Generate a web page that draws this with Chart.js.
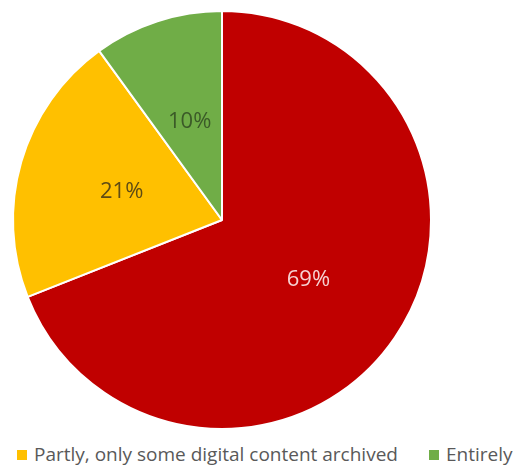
<!DOCTYPE html>
<html lang="en">
<head>
    <meta charset="UTF-8">
    <title>Digital content archiving</title>
    <script src="https://cdn.jsdelivr.net/npm/chart.js@4/dist/chart.umd.min.js"></script>
    <style>
        html, body { margin: 0; padding: 0; background: #fff; }
        #page { position: relative; width: 524px; height: 466px; overflow: hidden; }
        #wrap { position: absolute; left: 0; top: 0; width: 524px; height: 432px; }
        #legend {
            position: absolute; left: 17px; top: 442px;
            display: flex; white-space: nowrap;
            font-family: "Open Sans", sans-serif; font-size: 19px; line-height: 24px;
            color: #595959;
        }
        .item { display: flex; align-items: center; }
        .item + .item { margin-left: 31px; }
        .swatch { display: inline-block; width: 10px; height: 10px; margin-right: 7px; margin-top: 2px; }
    </style>
</head>
<body>
    <div id="page">
        <div id="wrap"><canvas id="pieChart"></canvas></div>
        <div id="legend"></div>
    </div>

    <script>
        // data
        const categories = ["Not archived", "Partly, only some digital content archived", "Entirely"];
        const shares = [69, 21, 10];
        const sliceColors = ["#C00000", "#FFC000", "#70AD47"];
        const labelColors = ["#F6D2D2", "#5E4B14", "#3B5A28"];

        // write the percentage in the middle of each slice
        const sliceLabels = {
            id: 'sliceLabels',
            afterDatasetsDraw(chart) {
                const ctx = chart.ctx;
                const meta = chart.getDatasetMeta(0);
                ctx.save();
                ctx.font = '22px "Open Sans", sans-serif';
                ctx.textAlign = 'center';
                ctx.textBaseline = 'middle';
                meta.data.forEach(function (arc, i) {
                    const pos = arc.tooltipPosition();
                    ctx.fillStyle = labelColors[i];
                    ctx.fillText(shares[i] + '%', pos.x, pos.y + 1);
                });
                ctx.restore();
            }
        };

        new Chart("pieChart", {
            type: "pie",
            data: {
                labels: categories,
                datasets: [{
                    data: shares,
                    backgroundColor: sliceColors,
                    borderColor: "#ffffff",
                    borderWidth: 2
                }]
            },
            options: {
                responsive: true,
                maintainAspectRatio: false,
                animation: false,
                layout: {
                    padding: { top: 10, left: 12, right: 92, bottom: 2 }
                },
                plugins: {
                    tooltip: { enabled: false },
                    legend: { display: false }
                }
            },
            plugins: [sliceLabels]
        });

        // legend below the pie, only the archived categories are listed
        var legend = document.getElementById('legend');
        categories.forEach(function (name, i) {
            if (i === 0) return;
            var item = document.createElement('span');
            item.className = 'item';
            var swatch = document.createElement('span');
            swatch.className = 'swatch';
            swatch.style.background = sliceColors[i];
            item.appendChild(swatch);
            item.appendChild(document.createTextNode(name));
            legend.appendChild(item);
        });
    </script>
</body>
</html>
